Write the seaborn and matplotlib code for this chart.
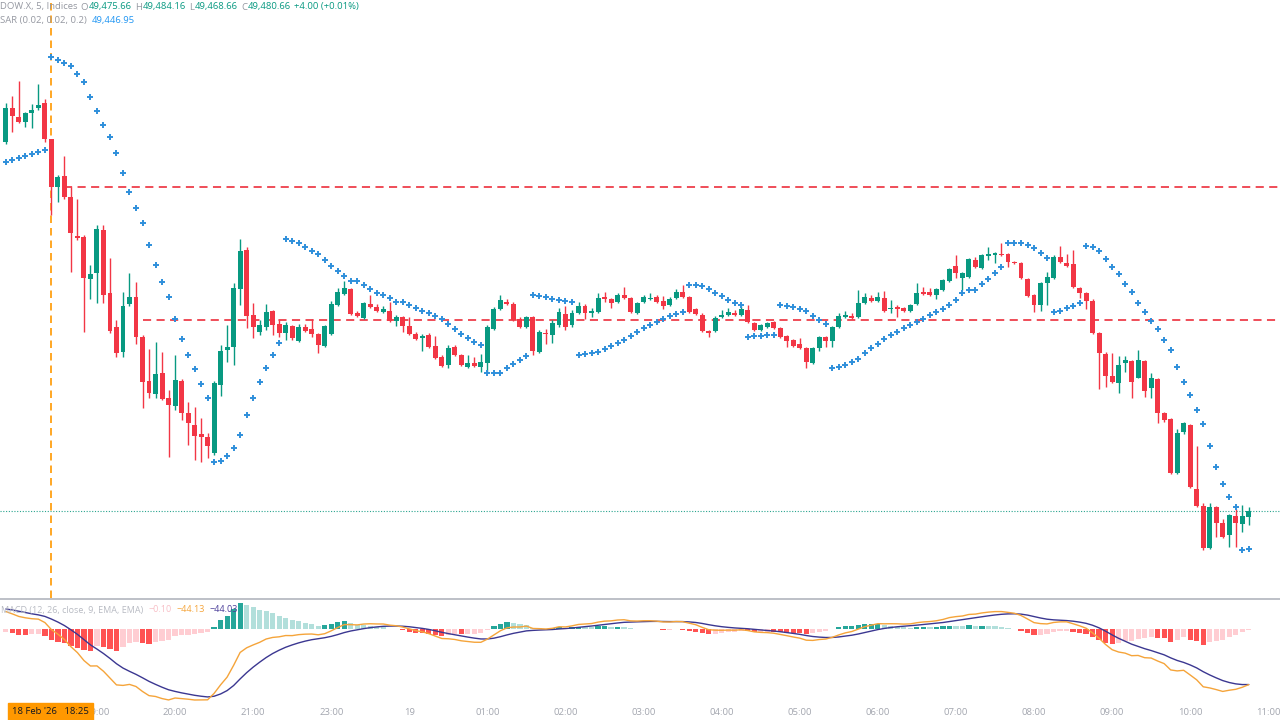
import numpy as np
import pandas as pd
import matplotlib
matplotlib.use("Agg")
import matplotlib.pyplot as plt
import seaborn as sns
from matplotlib.lines import Line2D
from matplotlib.patches import Rectangle

# 5 minute bars, bar 0 = 18 Feb '26 18:25
bar_idx = np.arange(-7, 185)

opens = [49799.5, 49828.9, 49821.1, 49816.8, 49824.6, 49828.9, 49833.2, 49802.1, 49760.6, 49770.1,
         49752.0, 49718.3, 49717.4, 49681.1, 49686.3, 49723.5, 49669.0, 49639.7, 49618.1, 49659.5,
         49665.6, 49631.0, 49593.0, 49581.8, 49599.9, 49578.3, 49571.4, 49593.0, 49565.4, 49555.0,
         49547.2, 49544.6, 49530.8, 49589.6, 49619.8, 49622.4, 49672.5, 49706.2, 49650.0, 49635.4,
         49639.7, 49653.5, 49642.3, 49634.5, 49640.5, 49627.6, 49639.7, 49637.9, 49633.6, 49623.3,
         49633.6, 49658.7, 49668.2, 49672.5, 49651.8, 49647.4, 49659.5, 49657.0, 49652.6, 49653.5,
         49644.9, 49648.3, 49640.5, 49633.6, 49630.2, 49632.8, 49623.3, 49613.8, 49606.8, 49622.4,
         49615.5, 49605.1, 49608.6, 49605.1, 49608.6, 49637.9, 49655.2, 49661.3, 49659.5, 49646.6,
         49639.7, 49648.3, 49618.1, 49634.5, 49632.8, 49641.4, 49650.9, 49641.4, 49651.8, 49657.8,
         49651.8, 49652.6, 49665.6, 49663.9, 49661.3, 49667.3, 49664.7, 49651.8, 49661.3, 49663.9,
         49665.6, 49662.1, 49658.7, 49664.7, 49669.9, 49665.6, 49655.2, 49650.0, 49636.2, 49636.2,
         49648.3, 49650.0, 49651.8, 49650.0, 49654.4, 49643.1, 49637.1, 49639.7, 49644.0, 49638.8,
         49631.9, 49628.4, 49625.0, 49621.5, 49608.6, 49621.5, 49631.0, 49627.6, 49639.7, 49648.3,
         49649.2, 49648.3, 49660.4, 49664.7, 49662.1, 49664.7, 49655.2, 49657.0, 49656.1, 49653.5,
         49659.5, 49669.9, 49669.9, 49667.3, 49671.6, 49679.4, 49692.4, 49682.0, 49682.9, 49697.6,
         49690.6, 49701.0, 49701.9, 49702.8, 49702.8, 49695.8, 49694.9, 49681.1, 49667.3, 49658.7,
         49677.7, 49682.0, 49700.1, 49694.9, 49694.1, 49673.4, 49669.0, 49662.1, 49634.5, 49616.3,
         49597.0, 49591.3, 49608.6, 49610.3, 49596.0, 49610.3, 49587.0, 49594.3, 49565.4, 49560.2,
         49513.5, 49548.9, 49555.0, 49499.9, 49485.0, 49448.7, 49484.2, 49470.3, 49460.0, 49476.4,
         49469.5, 49475.66]
highs = [49833.2, 49839.3, 49852.2, 49825.4, 49832.3, 49849.6, 49836.7, 49802.1, 49771.0, 49787.4,
         49760.6, 49750.3, 49719.2, 49693.2, 49727.8, 49727.8, 49699.3, 49645.7, 49669.9, 49686.3,
         49678.5, 49632.8, 49620.7, 49626.7, 49618.1, 49585.2, 49615.5, 49594.7, 49574.9, 49570.6,
         49561.0, 49548.1, 49593.0, 49624.1, 49641.4, 49677.7, 49715.7, 49708.8, 49660.4, 49645.7,
         49659.5, 49654.4, 49645.7, 49644.0, 49641.4, 49642.3, 49642.3, 49646.6, 49634.5, 49641.4,
         49662.1, 49673.4, 49679.4, 49673.4, 49653.5, 49661.3, 49667.3, 49659.5, 49657.8, 49661.3,
         49650.0, 49649.2, 49648.3, 49635.4, 49633.6, 49634.5, 49631.9, 49615.5, 49624.1, 49624.1,
         49616.3, 49615.5, 49613.8, 49616.3, 49641.4, 49657.0, 49667.3, 49663.9, 49661.3, 49648.3,
         49649.2, 49649.2, 49637.1, 49637.9, 49645.7, 49656.1, 49657.8, 49654.4, 49661.3, 49659.5,
         49656.1, 49669.0, 49669.9, 49664.7, 49669.0, 49674.2, 49665.6, 49661.3, 49667.3, 49669.0,
         49667.3, 49666.5, 49665.6, 49672.5, 49675.9, 49666.5, 49656.1, 49651.8, 49637.1, 49649.2,
         49654.4, 49656.1, 49654.4, 49657.8, 49658.7, 49644.0, 49642.3, 49644.0, 49644.9, 49639.7,
         49632.8, 49629.3, 49630.2, 49622.4, 49622.4, 49631.9, 49631.9, 49640.5, 49651.8, 49653.5,
         49651.8, 49671.6, 49669.0, 49667.3, 49669.9, 49670.8, 49663.0, 49658.7, 49657.0, 49659.5,
         49677.7, 49674.2, 49673.4, 49673.4, 49681.1, 49690.6, 49701.9, 49687.2, 49699.3, 49700.1,
         49702.8, 49708.8, 49704.5, 49712.3, 49703.6, 49696.7, 49695.8, 49682.0, 49668.2, 49678.6,
         49687.2, 49701.9, 49709.7, 49702.8, 49706.2, 49674.2, 49669.9, 49663.9, 49635.4, 49618.1,
         49617.2, 49614.6, 49614.6, 49611.2, 49619.8, 49611.2, 49599.9, 49595.2, 49566.3, 49561.0,
         49551.5, 49557.6, 49555.9, 49536.6, 49487.6, 49487.6, 49485.0, 49473.8, 49478.1, 49482.4,
         49485.9, 49484.16]
lows = [49797.8, 49808.2, 49815.9, 49812.5, 49811.6, 49827.2, 49799.5, 49736.4, 49747.7, 49750.3,
        49687.2, 49714.8, 49635.4, 49663.9, 49660.4, 49660.4, 49634.5, 49613.8, 49613.8, 49657.8,
        49625.0, 49569.7, 49578.3, 49578.3, 49576.6, 49527.4, 49568.0, 49559.3, 49538.0, 49524.5,
        49522.8, 49526.2, 49529.1, 49580.1, 49609.4, 49606.8, 49658.7, 49638.8, 49630.2, 49632.8,
        49637.1, 49632.8, 49631.0, 49628.4, 49628.4, 49626.7, 49635.4, 49631.0, 49617.2, 49622.4,
        49632.8, 49657.8, 49667.3, 49650.0, 49648.3, 49646.6, 49656.1, 49652.6, 49651.8, 49644.0,
        49640.5, 49635.4, 49632.8, 49628.4, 49618.9, 49621.5, 49612.0, 49605.1, 49604.2, 49614.6,
        49606.0, 49604.2, 49605.1, 49600.8, 49599.9, 49637.1, 49654.4, 49658.7, 49644.9, 49638.8,
        49638.8, 49615.5, 49617.2, 49625.0, 49625.8, 49639.7, 49637.1, 49639.7, 49650.9, 49646.6,
        49648.3, 49651.8, 49661.3, 49656.1, 49660.4, 49663.9, 49651.8, 49650.9, 49660.4, 49663.0,
        49660.4, 49655.2, 49657.8, 49663.9, 49664.7, 49651.8, 49650.0, 49635.4, 49631.0, 49635.4,
        49647.4, 49649.2, 49649.2, 49649.2, 49643.1, 49636.2, 49636.2, 49638.8, 49637.9, 49630.2,
        49622.4, 49622.4, 49620.7, 49604.2, 49607.7, 49618.9, 49622.4, 49622.4, 49638.8, 49647.4,
        49646.6, 49647.4, 49659.5, 49661.3, 49661.3, 49652.6, 49651.8, 49648.3, 49652.6, 49652.6,
        49658.7, 49667.3, 49666.5, 49663.9, 49670.8, 49678.6, 49682.0, 49671.6, 49682.0, 49690.6,
        49689.8, 49697.6, 49694.9, 49701.0, 49691.5, 49694.1, 49681.1, 49665.6, 49652.6, 49653.5,
        49658.7, 49681.1, 49694.9, 49691.5, 49673.4, 49664.7, 49655.2, 49633.6, 49586.1, 49587.8,
        49591.3, 49582.6, 49600.8, 49578.3, 49595.2, 49579.2, 49578.3, 49556.7, 49557.6, 49512.6,
        49512.6, 49547.2, 49500.8, 49484.2, 49447.0, 49447.9, 49458.2, 49457.4, 49449.6, 49449.6,
        49462.5, 49468.66]
closes = [49828.9, 49822.0, 49816.8, 49824.6, 49827.2, 49831.5, 49802.1, 49760.6, 49769.3, 49752.0,
          49720.9, 49716.6, 49682.0, 49685.5, 49724.3, 49667.3, 49636.2, 49617.2, 49657.8, 49665.6,
          49631.0, 49592.2, 49582.6, 49598.8, 49577.5, 49572.3, 49593.9, 49565.4, 49556.7, 49545.5,
          49544.6, 49537.0, 49591.3, 49618.9, 49622.4, 49673.4, 49705.3, 49649.2, 49639.7, 49641.4,
          49652.6, 49641.4, 49634.5, 49641.4, 49630.2, 49639.7, 49636.2, 49633.6, 49624.1, 49640.5,
          49659.5, 49669.9, 49673.4, 49650.9, 49649.2, 49660.4, 49657.0, 49653.5, 49655.2, 49644.9,
          49648.3, 49640.5, 49633.6, 49629.3, 49631.9, 49622.4, 49612.9, 49606.0, 49621.5, 49615.5,
          49606.8, 49608.6, 49606.0, 49609.4, 49639.7, 49655.2, 49663.0, 49659.5, 49645.7, 49639.7,
          49648.3, 49618.9, 49635.4, 49633.6, 49643.1, 49652.6, 49639.7, 49651.8, 49657.8, 49651.8,
          49653.5, 49664.7, 49663.9, 49660.4, 49667.3, 49664.7, 49652.6, 49660.4, 49665.6, 49664.7,
          49661.3, 49657.8, 49663.9, 49669.9, 49665.6, 49652.6, 49650.9, 49636.2, 49634.5, 49647.4,
          49650.0, 49652.6, 49650.0, 49655.2, 49644.0, 49637.1, 49641.4, 49643.1, 49638.8, 49631.0,
          49627.6, 49623.3, 49621.5, 49609.4, 49621.5, 49631.0, 49627.6, 49639.7, 49649.2, 49650.0,
          49647.4, 49660.4, 49665.6, 49662.1, 49665.6, 49653.5, 49656.1, 49655.2, 49653.5, 49658.7,
          49669.0, 49668.2, 49667.3, 49672.5, 49680.3, 49689.8, 49686.3, 49686.3, 49698.4, 49691.5,
          49701.9, 49702.8, 49703.6, 49701.9, 49695.8, 49694.9, 49682.0, 49666.5, 49658.7, 49677.7,
          49682.9, 49700.1, 49695.8, 49692.4, 49674.2, 49669.0, 49662.1, 49634.5, 49617.2, 49597.0,
          49592.2, 49606.8, 49611.2, 49592.2, 49611.2, 49584.4, 49595.2, 49565.4, 49559.3, 49513.5,
          49548.1, 49556.7, 49501.6, 49485.0, 49448.7, 49484.2, 49470.3, 49458.2, 49477.2, 49470.3,
          49476.4, 49480.66]

# horizontal rays drawn on the chart
level_prices = [49760.6, 49645.7]
level_anchor_bars = [2, 14]

# time axis
tick_bars = [7, 19, 31, 43, 55, 67, 79, 91, 103, 115, 127, 139, 151, 163, 175, 187]
tick_labels = ["19:00", "20:00", "21:00", "23:00", "19", "01:00", "02:00", "03:00",
               "04:00", "05:00", "06:00", "07:00", "08:00", "09:00", "10:00", "11:00"]

# indicator state at the first visible bar (carried over from earlier history)
sar_state0 = dict(value=49782.2, extreme=49873.0, af=0.02, below=True)
ema_state0 = dict(fast=49832.0, slow=49818.0, signal=16.0)

UP, DOWN = "#089981", "#F23645"
GREY_TXT = "#9598A1"

df = pd.DataFrame({"bar": bar_idx, "open": opens, "high": highs, "low": lows, "close": closes})


def parabolic_sar(high, low, state, start=0.02, inc=0.02, amax=0.2):
    out = np.empty(len(high))
    res, mm, acc, below = state["value"], state["extreme"], state["af"], state["below"]
    out[0] = res
    for i in range(1, len(high)):
        first = False
        res = res + acc * (mm - res)
        if below:
            if res > low[i]:
                first, below = True, False
                res = max(high[i], mm)
                mm, acc = low[i], start
        else:
            if res < high[i]:
                first, below = True, True
                res = min(low[i], mm)
                mm, acc = high[i], start
        if not first:
            if below and high[i] > mm:
                mm, acc = high[i], min(acc + inc, amax)
            elif not below and low[i] < mm:
                mm, acc = low[i], min(acc + inc, amax)
        if below:
            res = min(res, low[i - 1], low[i - 2] if i > 1 else low[i - 1])
        else:
            res = max(res, high[i - 1], high[i - 2] if i > 1 else high[i - 1])
        out[i] = res
    return out


def ema(vals, n, first):
    a = 2.0 / (n + 1)
    out = np.empty(len(vals))
    out[0] = first
    for i in range(1, len(vals)):
        out[i] = out[i - 1] + a * (vals[i] - out[i - 1])
    return out


df["sar"] = parabolic_sar(df["high"].values, df["low"].values, sar_state0)
fast = ema(df["close"].values, 12, ema_state0["fast"])
slow = ema(df["close"].values, 26, ema_state0["slow"])
df["macd"] = fast - slow
df["signal"] = ema(df["macd"].values, 9, ema_state0["signal"])
df["histo"] = df["macd"] - df["signal"]

sns.set_theme(style="white")
plt.rcParams["font.family"] = ["Open Sans", "DejaVu Sans"]

fig = plt.figure(figsize=(12.8, 7.2), dpi=100)
ax = fig.add_axes([0, 1 - 598 / 720, 1, 598 / 720])
mx = fig.add_axes([0, 15 / 720, 1, 105 / 720])

# candles
up = df["close"] >= df["open"]
col = np.where(up, UP, DOWN)
ax.vlines(df["bar"], df["low"], df["high"], colors=col, lw=1, zorder=2)
body_lo = np.minimum(df["open"], df["close"])
body_h = np.maximum((df["close"] - df["open"]).abs(), 0.8)
ax.bar(df["bar"], body_h, bottom=body_lo, width=0.76, color=col, linewidth=0, zorder=3)

# parabolic SAR
sns.scatterplot(data=df, x="bar", y="sar", marker="+", s=18, color="#2F8FDB",
                linewidth=1.4, ax=ax, zorder=4, legend=False)

# drawn levels, event line, last price line
for p, b in zip(level_prices, level_anchor_bars):
    ax.hlines(p, b, 300, colors="#EE3F4B", lw=1.3, linestyles=(0, (4.5, 3)), zorder=1)
ax.axvline(0, color="#FF9800", lw=1.2, ls=(0, (4.5, 3)), zorder=1)
ax.axhline(closes[-1], color="#2AA58F", lw=0.8, ls=(0, (1, 1.5)), zorder=1)

ax.set_xlim(-7.9, 188.8)
ax.set_ylim(49405.5, 49922.2)
ax.set_axis_off()

# MACD pane
h = df["histo"].values
prev = np.r_[h[0], h[:-1]]
hcol = np.where(h >= 0, np.where(h > prev, "#26A69A", "#B2DFDB"),
                np.where(h < prev, "#FF5252", "#FFCDD2"))
mx.bar(df["bar"], h, width=0.8, color=hcol, linewidth=0, zorder=1)
sns.lineplot(data=df, x="bar", y="signal", color="#3B3791", lw=1, ax=mx, zorder=2)
sns.lineplot(data=df, x="bar", y="macd", color="#F5A43A", lw=1, ax=mx, zorder=3)

lo = min(df["macd"].min(), df["signal"].min(), h.min())
hi = max(df["macd"].max(), df["signal"].max(), h.max())
span = (hi - lo) / (97 / 105)
top = hi + span * 3 / 105
mx.set_ylim(top - span, top)
mx.set_xlim(-7.9, 188.8)
mx.set_xticks(tick_bars, tick_labels)
mx.tick_params(axis="x", length=0, pad=2, labelsize=6.8, labelcolor="#A3A6AF")
mx.tick_params(axis="y", left=False, labelleft=False)
mx.set_xlabel("")
mx.set_ylabel("")
for s in mx.spines.values():
    s.set_visible(False)

fig.add_artist(Line2D([0, 1], [1 - 599 / 720] * 2, color="#B2B5BE", lw=1.2))

# text runs
renderer = fig.canvas.get_renderer()


def run(x_px, y_px, parts, size=6.8):
    x = x_px
    for s, c, gap in parts:
        t = fig.text(x / 1280, 1 - y_px / 720, s, color=c, fontsize=size, va="center", ha="left", zorder=10)
        x = t.get_window_extent(renderer).x1 + gap


run(0, 7, [("DOW.X, 5, Indices", GREY_TXT, 3), ("O", GREY_TXT, 0.5), ("49,475.66", UP, 3.5),
           ("H", GREY_TXT, 0.5), ("49,484.16", UP, 3.5), ("L", GREY_TXT, 0.5), ("49,468.66", UP, 3.5),
           ("C", GREY_TXT, 0.5), ("49,480.66", UP, 3.5), ("+4.00 (+0.01%)", UP, 0)])
run(0, 20, [("SAR (0.02, 0.02, 0.2)", GREY_TXT, 5), ("49,446.95", "#2196F3", 0)])
run(1, 610, [("MACD (12, 26, close, 9, EMA, EMA)", "#B8BBC3", 5), ("\u22120.10", "#F8BFC6", 5),
             ("\u221244.13", "#F5A43A", 5), ("\u221244.03", "#4A3D99", 0)], size=6.5)

fig.add_artist(Rectangle((8 / 1280, 0), 85 / 1280, 17 / 720, transform=fig.transFigure,
                         color="#FF9800", zorder=9))
fig.text(50 / 1280, 1 - 711.5 / 720, "18 Feb '26   18:25", color="#131722", fontsize=6.8,
         ha="center", va="center", zorder=11)

fig.savefig("out.png", dpi=100, facecolor="white")
